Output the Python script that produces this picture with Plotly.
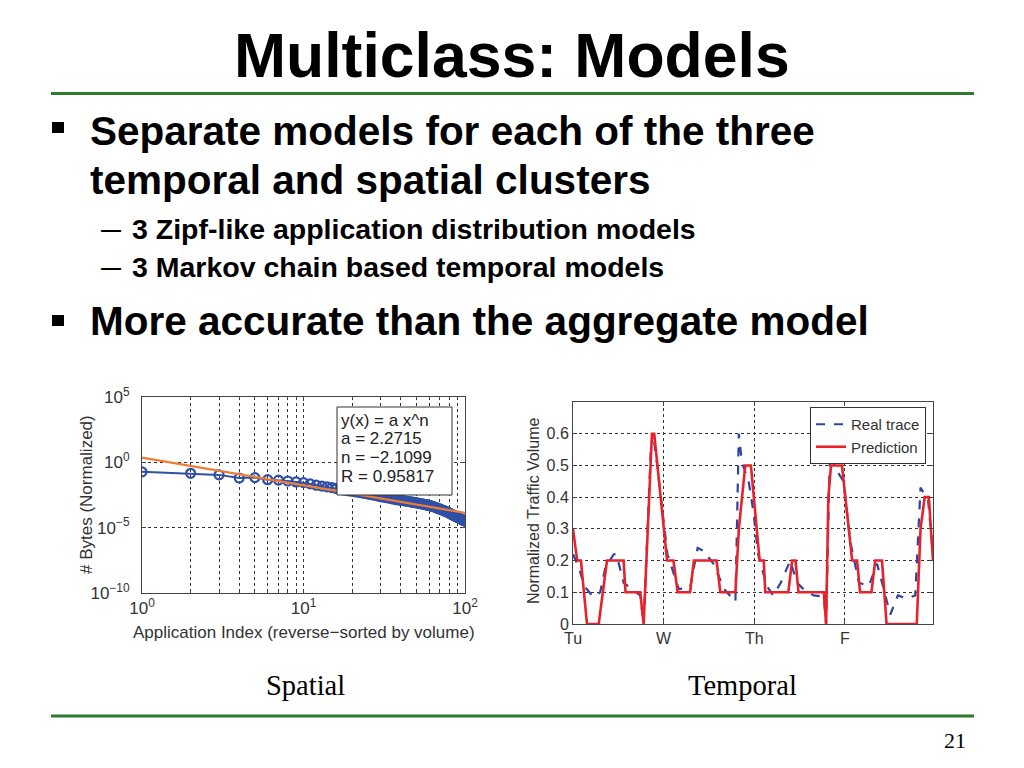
import plotly.graph_objects as go

# ---------------- data ----------------
app_index = list(range(1, 101))
# log10 of normalized bytes
bytes_log10 = [
    -0.73, -0.84, -0.96, -1.20, -1.17, -1.33, -1.36, -1.43, -1.50, -1.55,
    -1.65, -1.75, -1.82, -1.88, -1.93, -2.00, -2.07, -2.13, -2.18, -2.22,
    -2.26, -2.30, -2.34, -2.38, -2.42, -2.46, -2.50, -2.54, -2.58, -2.62,
    -2.65, -2.68, -2.71, -2.74, -2.77, -2.80, -2.83, -2.86, -2.88, -2.90,
    -2.92, -2.94, -2.96, -2.98, -3.00, -3.02, -3.04, -3.06, -3.08, -3.10,
    -3.12, -3.14, -3.16, -3.18, -3.20, -3.22, -3.24, -3.26, -3.28, -3.30,
    -3.32, -3.34, -3.37, -3.40, -3.43, -3.46, -3.49, -3.52, -3.55, -3.58,
    -3.61, -3.64, -3.67, -3.70, -3.73, -3.76, -3.79, -3.82, -3.85, -3.88,
    -3.92, -3.96, -4.00, -4.03, -4.06, -4.09, -4.12, -4.15, -4.18, -4.21,
    -4.24, -4.27, -4.30, -4.33, -4.36, -4.39, -4.42, -4.45, -4.48, -4.50,
]
bytes_norm = [10 ** v for v in bytes_log10]

fit_x = [1, 100]
fit_y = [2.27, 1.37e-4]
fit_text = ["y(x) = a x^n", "a = 2.2715", "n = \u22122.1099", "R = 0.95817"]

x1_tickvals = [1, 10, 100]
x1_ticktext = ["10<sup>0</sup>", "10<sup>1</sup>", "10<sup>2</sup>"]
x1_minor = [2, 3, 4, 5, 6, 7, 8, 9, 20, 30, 40, 50, 60, 70, 80, 90]
y1_tickvals = [1e-10, 1e-5, 1, 1e5]
y1_ticktext = ["10<sup>\u221210</sup>", "10<sup>\u22125</sup>", "10<sup>0</sup>", "10<sup>5</sup>"]

# temporal: hours from Tuesday 00:00
pred_h = [0, 1.1, 2.1, 3.7, 6.8, 9.0, 13.4, 13.9, 17.8, 18.7, 20.9, 21.5, 24.9, 26.6, 27.7,
          31.0, 32.0, 38.0, 39.0, 43.0, 43.9, 45.6, 47.1, 48.7, 49.4, 50.5, 50.9, 57.0, 58.0, 58.9,
          59.7, 66.4, 67.0, 67.6, 68.3, 71.2, 73.9, 75.2, 76.0, 79.0, 80.0, 81.8, 83.0, 91.0, 92.0,
          93.1, 94.2, 95.3]
pred_v = [0.3, 0.2, 0.2, 0, 0, 0.2, 0.2, 0.1, 0.1, 0, 0.6, 0.6, 0.2, 0.2, 0.1,
          0.1, 0.2, 0.2, 0.1, 0.1, 0.3, 0.5, 0.5, 0.3, 0.2, 0.2, 0.1, 0.1, 0.2, 0.2,
          0.1, 0.1, 0, 0.4, 0.5, 0.5, 0.2, 0.2, 0.1, 0.1, 0.2, 0.2, 0, 0, 0.3,
          0.4, 0.4, 0.2]
real_h = [0, 1.5, 3.0, 5.0, 5.9, 7.2, 8.6, 10.8, 11.5, 13.4, 15.6, 17.8, 18.7, 20.6, 21.2,
          22.2, 25.0, 26.6, 28.0, 31.0, 33.0, 34.6, 37.2, 40.0, 43.0, 43.9, 44.7, 46.5, 47.8, 49.0,
          51.3, 53.0, 55.0, 57.5, 59.3, 61.0, 63.7, 66.4, 67.0, 68.0, 69.5, 71.6, 73.4, 75.7, 78.3,
          80.5, 81.8, 84.0, 86.0, 88.4, 90.6, 91.5, 92.0, 94.0, 95.3]
real_v = [0.22, 0.18, 0.12, 0.09, 0.086, 0.1, 0.18, 0.22, 0.22, 0.13, 0.11, 0.09, 0.0, 0.55, 0.6,
          0.51, 0.22, 0.165, 0.11, 0.115, 0.24, 0.23, 0.19, 0.11, 0.07, 0.6, 0.51, 0.45, 0.35, 0.22,
          0.12, 0.09, 0.13, 0.2, 0.13, 0.11, 0.09, 0.086, 0.0, 0.54, 0.49, 0.45, 0.26, 0.13, 0.12,
          0.19, 0.13, 0.03, 0.09, 0.08, 0.09, 0.3, 0.43, 0.39, 0.22]
day_ticks = [0, 24, 48, 72]
day_labels = ["Tu", "W", "Th", "F"]
y2_tickvals = [0, 0.1, 0.2, 0.3, 0.4, 0.5, 0.6]
y2_ticktext = ["0", "0.1", "0.2", "0.3", "0.4", "0.5", "0.6"]

title = "Multiclass: Models"
bullets = ["Separate models for each of the three", "temporal and spatial clusters",
           "More accurate than the aggregate model"]
subbullets = ["3 Zipf-like application distribution models", "3 Markov chain based temporal models"]

# ---------------- styling ----------------
W, H = 1024, 768
def px(x): return x / W
def py(y): return 1 - y / H

GREEN = "#2E7A2E"
BLUE = "#3050A8"
ORANGE = "#EE7D31"
RED = "#E8222B"
BOLD = "Liberation Sans, Arial, sans-serif"
SANS = "Liberation Sans, Arial, sans-serif"
SERIF = "Liberation Serif, Times New Roman, serif"

fig = go.Figure()
fig.add_trace(go.Scatter(x=app_index, y=bytes_norm, mode="lines+markers",
                         line=dict(color=BLUE, width=2),
                         marker=dict(symbol="circle-open", size=9, color=BLUE, line=dict(width=2.2, color=BLUE)),
                         xaxis="x", yaxis="y", showlegend=False))
fig.add_trace(go.Scatter(x=fit_x, y=fit_y, mode="lines", line=dict(color=ORANGE, width=2.2),
                         xaxis="x", yaxis="y", showlegend=False))
fig.add_trace(go.Scatter(x=real_h, y=real_v, mode="lines", name="Real trace",
                         line=dict(color="#2B45A0", width=2.2, dash="dash"), xaxis="x2", yaxis="y2"))
fig.add_trace(go.Scatter(x=pred_h, y=pred_v, mode="lines", name="Prediction",
                         line=dict(color=RED, width=2.6), xaxis="x2", yaxis="y2"))

def axcommon(size):
    return dict(showline=True, mirror="allticks", linecolor="#444", linewidth=1,
                ticks="inside", ticklen=4, tickcolor="#444", automargin=False,
                showgrid=True, gridcolor="#333", griddash="dot", gridwidth=1,
                zeroline=False, tickfont=dict(family=SANS, size=size, color="#333"))

fig.update_layout(
    width=W, height=H, margin=dict(l=0, r=0, t=0, b=0, pad=0), autosize=False,
    paper_bgcolor="white", plot_bgcolor="white",
    xaxis=dict(domain=[px(142), px(465)], anchor="y", type="log", range=[0, 2],
               tickvals=x1_tickvals, ticktext=x1_ticktext,
               minor=dict(tickmode="array", tickvals=x1_minor, showgrid=True, gridcolor="#333",
                          griddash="dot", gridwidth=1, ticks="inside", ticklen=2, tickcolor="#444"),
               **axcommon(17)),
    yaxis=dict(domain=[py(593), py(397)], anchor="x", type="log", range=[-10, 5],
               tickvals=y1_tickvals, ticktext=y1_ticktext, ticklabelstandoff=8, **axcommon(17)),
    xaxis2=dict(domain=[px(573), px(933)], anchor="y2", range=[0, 95.3],
                tickvals=day_ticks, ticktext=day_labels, **axcommon(16)),
    yaxis2=dict(domain=[py(624), py(402)], anchor="x2", range=[0, 0.7],
                tickvals=y2_tickvals, ticktext=y2_ticktext, **axcommon(16)),
    showlegend=True,
    legend=dict(x=px(926), xanchor="right", y=py(407), yanchor="top",
                bgcolor="white", bordercolor="#333", borderwidth=1,
                font=dict(family=SANS, size=15, color="#333"),
                tracegroupgap=0, itemwidth=30),
)

shapes = [
    dict(type="line", xref="paper", yref="paper", x0=px(51), x1=px(974), y0=py(93.5), y1=py(93.5),
         line=dict(color=GREEN, width=3)),
    dict(type="line", xref="paper", yref="paper", x0=px(51), x1=px(974), y0=py(716), y1=py(716),
         line=dict(color=GREEN, width=3)),
    dict(type="rect", xref="paper", yref="paper", x0=px(337), x1=px(452), y0=py(495), y1=py(407),
         fillcolor="white", line=dict(color="#333", width=1), layer="above"),
    dict(type="rect", xref="paper", yref="paper", x0=px(52), x1=px(64), y0=py(133), y1=py(122),
         fillcolor="black", line=dict(width=0)),
    dict(type="rect", xref="paper", yref="paper", x0=px(52), x1=px(64), y0=py(326), y1=py(315),
         fillcolor="black", line=dict(width=0)),
]
fig.update_layout(shapes=shapes)

ann = []
ann.append(dict(text=f"<b>{title}</b>", x=px(512), y=py(55), font=dict(family=BOLD, size=62.5, color="black")))
for yy, t in zip([131, 180, 321], bullets):
    ann.append(dict(text=f"<b>{t}</b>", x=px(88), y=py(yy), xanchor="left",
                    font=dict(family=BOLD, size=40.5, color="black")))
for yy, t in zip([229, 267], subbullets):
    ann.append(dict(text="<b>\u2014</b>", x=px(99), y=py(yy), xanchor="left",
                    font=dict(family=BOLD, size=20, color="black")))
    ann.append(dict(text=f"<b>{t}</b>", x=px(130), y=py(yy), xanchor="left",
                    font=dict(family=BOLD, size=28.5, color="black")))
for yy, t in zip([420, 438.5, 457, 476], fit_text):
    ann.append(dict(text=t, x=px(339), y=py(yy), xanchor="left",
                    font=dict(family=SANS, size=17, color="#222")))
ann.append(dict(text="# Bytes (Normalized)", x=px(86), y=py(495), textangle=-90,
                font=dict(family=SANS, size=17, color="#333")))
ann.append(dict(text="Application Index (reverse\u2212sorted by volume)", x=px(304), y=py(632),
                font=dict(family=SANS, size=17, color="#333")))
ann.append(dict(text="Normalized Traffic Volume", x=px(533), y=py(511), textangle=-90,
                font=dict(family=SANS, size=16, color="#333")))
ann.append(dict(text="Spatial", x=px(305), y=py(685), font=dict(family=SERIF, size=28.5, color="black")))
ann.append(dict(text="Temporal", x=px(742), y=py(685), font=dict(family=SERIF, size=28.5, color="black")))
ann.append(dict(text="21", x=px(955), y=py(740), font=dict(family=SERIF, size=22, color="black")))
for a in ann:
    a.setdefault("xref", "paper")
    a.setdefault("yref", "paper")
    a.setdefault("showarrow", False)
    a.setdefault("xanchor", "center")
    a.setdefault("yanchor", "middle")
fig.update_layout(annotations=ann)

fig.write_html("out.html", config={"displayModeBar": False},
               post_script="document.body.style.margin='0';document.body.style.overflow='hidden';")
